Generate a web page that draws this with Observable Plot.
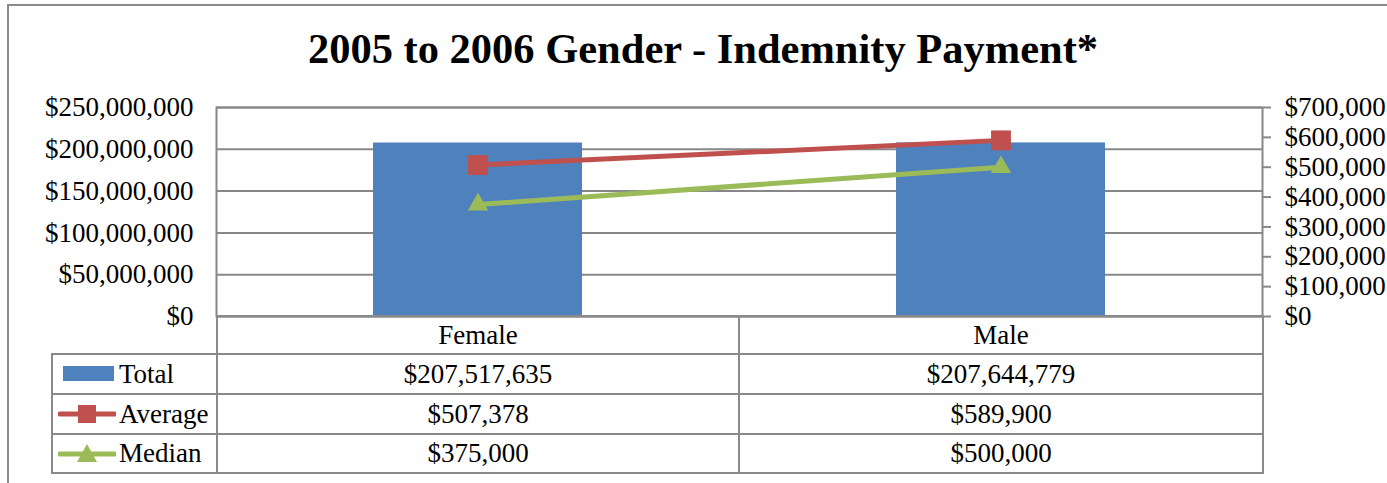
<!DOCTYPE html>
<html><head><meta charset="utf-8">
<script src="https://cdn.jsdelivr.net/npm/d3@7"></script>
<script src="https://cdn.jsdelivr.net/npm/@observablehq/plot@0.6"></script>
<style>
body{margin:0;background:#fff;font-family:"Liberation Serif","Times New Roman",serif;color:#000;}
#wrap{position:relative;width:1387px;height:483px;overflow:hidden;}
#frame{position:absolute;left:7px;top:4px;width:1500px;height:600px;border:2px solid #8a8a8a;box-sizing:border-box;}
#title{position:absolute;left:0;width:1406px;top:28px;line-height:42px;text-align:center;font-weight:bold;font-size:42.5px;white-space:nowrap;}
#chart{position:absolute;left:0;top:0;}
#tbl{position:absolute;left:51px;top:315px;border-collapse:collapse;table-layout:fixed;font-size:27px;}
#tbl td{border:2px solid #8a8a8a;text-align:center;padding:0;white-space:nowrap;line-height:27px;}
#tbl td.key{text-align:left;padding-left:5px;}
#tbl td.blank{border:none;}
#tbl svg{vertical-align:middle;margin-right:3px;position:relative;top:-2px;}
</style></head>
<body>
<div id="wrap">
  <div id="frame"></div>
  <div id="title"></div>
  <div id="chart"></div>
  <table id="tbl"></table>
</div>
<script>
const titleText = "2005 to 2006 Gender - Indemnity Payment*";
const categories = ["Female", "Male"];
const totals = [207517635, 207644779];
const averages = [507378, 589900];
const medians = [375000, 500000];
const seriesNames = ["Total", "Average", "Median"];
const leftTicks = [0, 50000000, 100000000, 150000000, 200000000, 250000000];
const rightTicks = [0, 100000, 200000, 300000, 400000, 500000, 600000, 700000];

const colors = {Total: "#4F81BD", Average: "#C0504D", Median: "#9BBB59"};
const leftMax = 250000000, rightMax = 700000;
const k = leftMax / rightMax;
const fmt = v => "$" + d3.format(",")(v);

document.getElementById("title").textContent = titleText;

const totalData = categories.map((c, i) => ({cat: c, value: totals[i]}));
const avgData = categories.map((c, i) => ({cat: c, value: averages[i]}));
const medData = categories.map((c, i) => ({cat: c, value: medians[i]}));

const chart = Plot.plot({
  width: 1387, height: 330,
  marginLeft: 216, marginRight: 125, marginTop: 107, marginBottom: 14,
  x: {type: "band", domain: categories, padding: 0, axis: null, label: null},
  y: {domain: [0, leftMax], axis: null, label: null},
  style: {fontFamily: "'Liberation Serif','Times New Roman',serif", fontSize: "27px", color: "#000", background: "transparent", overflow: "visible"},
  marks: [
    Plot.gridY(leftTicks, {stroke: "#878787", strokeOpacity: 1, strokeWidth: 2}),
    Plot.barY(totalData, {x: "cat", y: "value", fill: colors.Total, insetLeft: 157, insetRight: 157}),
    Plot.frame({stroke: "#878787", strokeWidth: 2}),
    Plot.axisY({ticks: leftTicks, anchor: "left", label: null, tickSize: 0, tickPadding: 23, tickFormat: fmt, fontSize: 27}),
    Plot.axisY({ticks: rightTicks.map(v => v * k), anchor: "right", label: null, tickSize: 8, tickPadding: 14, stroke: "#878787", strokeWidth: 2, tickFormat: d => fmt(Math.round(d / k)), fontSize: 27}),
    Plot.lineY(avgData, {x: "cat", y: d => d.value * k, stroke: colors.Average, strokeWidth: 5}),
    Plot.dot(avgData, {x: "cat", y: d => d.value * k, symbol: "square", r: 11.2, fill: colors.Average, stroke: "none"}),
    Plot.lineY(medData, {x: "cat", y: d => d.value * k, stroke: colors.Median, strokeWidth: 5}),
    Plot.dot(medData, {x: "cat", y: d => d.value * k, symbol: "triangle", r: 7.6, fill: colors.Median, stroke: "none"})
  ]
});
document.getElementById("chart").appendChild(chart);

// data table
const tbl = document.getElementById("tbl");
const colgroup = document.createElement("colgroup");
[165, 522, 524].forEach(w => { const c = document.createElement("col"); c.style.width = w + "px"; colgroup.appendChild(c); });
tbl.appendChild(colgroup);

function keySvg(name) {
  const c = colors[name];
  let inner = "";
  if (name === "Total") inner = `<rect x="5" y="2" width="51" height="15" fill="${c}"/>`;
  else if (name === "Average") inner = `<line x1="2" y1="10" x2="57" y2="10" stroke="${c}" stroke-width="5" stroke-linecap="round"/><rect x="20" y="1" width="18" height="18" fill="${c}"/>`;
  else inner = `<line x1="2" y1="10" x2="57" y2="10" stroke="${c}" stroke-width="5" stroke-linecap="round"/><path d="M29,0 L39,18 L19,18 Z" fill="${c}"/>`;
  return `<svg width="58" height="20" viewBox="0 0 58 20">${inner}</svg>`;
}
const rowsVals = {Total: totals, Average: averages, Median: medians};
let html = `<tr style="height:38px"><td class="blank"></td>${categories.map(c => `<td>${c}</td>`).join("")}</tr>`;
const hs = [40, 40, 39];
seriesNames.forEach((s, j) => {
  html += `<tr style="height:${hs[j]}px"><td class="key">${keySvg(s)}${s}</td>${rowsVals[s].map(v => `<td>${fmt(v)}</td>`).join("")}</tr>`;
});
tbl.insertAdjacentHTML("beforeend", html);
</script>
</body></html>
